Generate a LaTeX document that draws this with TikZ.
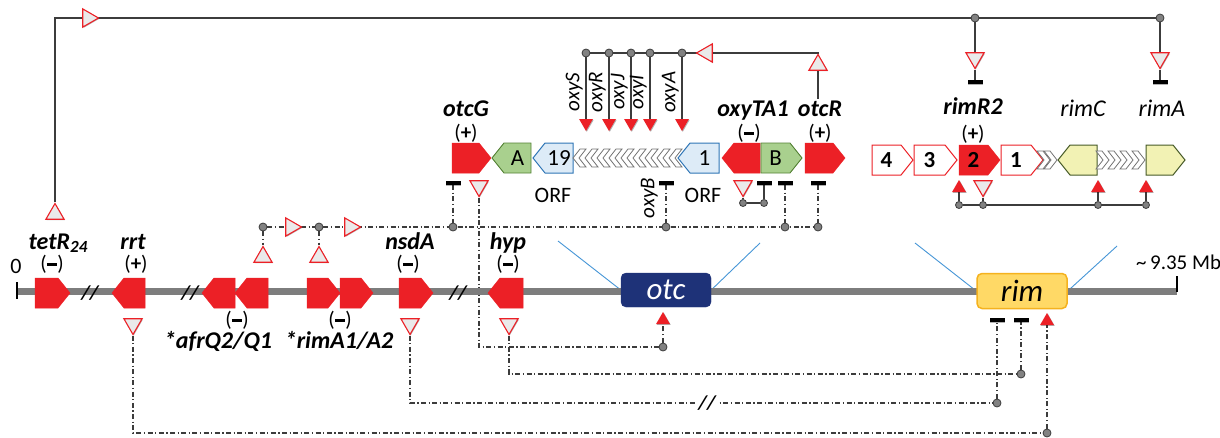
\documentclass[tikz,border=0pt]{standalone}
\usepackage{fontspec}
\setmainfont{Carlito}
\usetikzlibrary{shapes.geometric,shadows}
\pgfdeclarelayer{bg}
\pgfsetlayers{bg,main}
\definecolor{gred}{RGB}{236,32,38}
\definecolor{tfill}{RGB}{234,234,234}
\definecolor{dkline}{RGB}{60,60,60}
\definecolor{dotfill}{RGB}{130,130,130}
\definecolor{chromc}{RGB}{125,125,125}
\definecolor{navy}{RGB}{30,50,120}
\definecolor{rimfill}{RGB}{255,217,102}
\definecolor{rimdraw}{RGB}{245,178,30}
\definecolor{bluel}{RGB}{70,150,215}
\definecolor{orffill}{RGB}{221,235,247}
\definecolor{orfdraw}{RGB}{46,117,182}
\definecolor{grfill}{RGB}{169,208,142}
\definecolor{grdraw}{RGB}{84,130,53}
\definecolor{yefill}{RGB}{242,242,180}
\definecolor{yedraw}{RGB}{70,90,40}
\newcommand\genR[7]{%
  \draw[#5] (#2,#4-15) -- (#3-12,#4-15) -- (#3,#4) -- (#3-12,#4+15) -- (#2,#4+15) -- cycle;
  \node[#7] (#1) at ({(#2+#3-12)/2},#4) {#6};}
\newcommand\genL[7]{%
  \draw[#5] (#2,#4) -- (#2+12,#4-15) -- (#3,#4-15) -- (#3,#4+15) -- (#2+12,#4+15) -- cycle;
  \node[#7] (#1) at ({(#2+12+#3)/2},#4) {#6};}
\newcommand\chevL[2]{%
  \draw[chev] (#1,#2) -- (#1+7,#2-9) -- (#1+13,#2-9) -- (#1+6,#2) -- (#1+13,#2+9) -- (#1+7,#2+9) -- cycle;}
\newcommand\chevR[2]{%
  \draw[chev] (#1,#2) -- (#1-7,#2-9) -- (#1-13,#2-9) -- (#1-6,#2) -- (#1-13,#2+9) -- (#1-7,#2+9) -- cycle;}
\newcommand\msign{(\raisebox{0.2em}{\rule{0.5em}{0.16em}})}
\newcommand\psign{(\textbf{+})}
\begin{document}
\begin{tikzpicture}[x=1pt,y=-1pt,
  shad/.style={drop shadow={shadow xshift=0.8pt,shadow yshift=-0.8pt,opacity=0.3,fill=black}},
  otri/.style={regular polygon,regular polygon sides=3,draw=gred,fill=tfill,line width=1.1pt,minimum size=21pt,inner sep=0pt,shad},
  triup/.style={otri},
  tridown/.style={otri,regular polygon rotate=180},
  triright/.style={otri,regular polygon rotate=-90},
  trileft/.style={otri,regular polygon rotate=90},
  redtri/.style={regular polygon,regular polygon sides=3,fill=gred,draw=none,minimum size=16pt,inner sep=0pt,shad},
  redtridown/.style={redtri,regular polygon rotate=180},
  repbar/.style={rectangle,fill=black,minimum width=15pt,minimum height=4pt,inner sep=0pt,shad},
  gdot/.style={circle,fill=dotfill,draw=dkline,line width=0.8pt,minimum size=8pt,inner sep=0pt},
  sdot/.style={gdot,minimum size=7pt},
  dd/.style={dkline,line width=1.1pt,dash pattern=on 5pt off 2.5pt on 1.2pt off 2.5pt},
  sol/.style={dkline,line width=1.2pt},
  chromo/.style={chromc,line width=7pt},
  tickm/.style={black,line width=1.6pt},
  blueline/.style={bluel,line width=0.9pt},
  redg/.style={fill=gred,draw=gred,line width=0.5pt},
  grg/.style={fill=grfill,draw=grdraw,line width=0.9pt},
  orfg/.style={fill=orffill,draw=orfdraw,line width=1pt},
  wg/.style={fill=white,draw=gred,line width=1pt},
  yg/.style={fill=yefill,draw=yedraw,line width=1pt},
  chev/.style={draw=black!55,fill=white,line width=0.8pt},
  gtxt/.style={font=\fontsize{23}{24}\selectfont,inner sep=0pt},
  btxt/.style={font=\fontsize{23}{24}\selectfont\bfseries,inner sep=0pt},
  glabel/.style={font=\fontsize{24}{28}\selectfont\bfseries\itshape,anchor=base,inner sep=0pt},
  ilabel/.style={font=\fontsize{24}{28}\selectfont\itshape,anchor=base,inner sep=0pt},
  sgn/.style={font=\fontsize{21}{22}\selectfont,inner sep=0pt},
  rlabel/.style={font=\fontsize{21}{24}\selectfont\itshape,rotate=90,anchor=south,inner sep=1pt},
  plain/.style={font=\fontsize{22}{24}\selectfont,inner sep=0pt},
  brk/.style={font=\fontsize{20}{22}\selectfont\bfseries\itshape,inner sep=1pt},
  boxotc/.style={rectangle,rounded corners=5pt,fill=navy,draw=navy,minimum width=90pt,minimum height=34pt,text=white,font=\fontsize{31}{32}\selectfont\itshape},
  boxrim/.style={rectangle,rounded corners=5pt,fill=rimfill,draw=rimdraw,line width=1.5pt,minimum width=90pt,minimum height=35pt,font=\fontsize{31}{32}\selectfont\itshape}
]
\useasboundingbox (0,0) rectangle (1220,437);
\begin{pgfonlayer}{bg}
\fill[white] (0,0) rectangle (1220,437);
\end{pgfonlayer}

% ---------- chromosome ----------
\coordinate (chL) at (17,291);
\coordinate (chR) at (1177,291);
\draw[chromo] (chL) -- (chR);
\draw[tickm] (17,282) -- (17,299);
\draw[tickm] (1177,276) -- (1177,292);
\node[plain] (zero) at (16,266) {0};
\node[plain,anchor=west] (size) at (1136,262) {\fontsize{21}{22}\selectfont \char`\~\,9.35 Mb};

\genR{gTetR}{35}{70}{293}{redg}{}{gtxt}
\genL{gRrt}{112}{145}{293}{redg}{}{gtxt}
\genL{gAfrQtwo}{202}{235}{293}{redg}{}{gtxt}
\genL{gAfrQone}{235}{268}{293}{redg}{}{gtxt}
\genR{gRimAone}{307}{340}{293}{redg}{}{gtxt}
\genR{gRimAtwo}{340}{373}{293}{redg}{}{gtxt}
\genR{gNsdA}{399}{433}{293}{redg}{}{gtxt}
\genL{gHyp}{488}{523}{293}{redg}{}{gtxt}
\node[brk] (brA) at (90,293) {//};
\node[brk] (brB) at (190,293) {//};
\node[brk] (brC) at (458,293) {//};

\node[boxotc] (otcbox) at (666,290) {otc};
\node[boxrim] (rimbox) at (1022,291) {\textcolor{black}{rim}};

% labels on chromosome
\node[glabel] (lTetR) at (58,249) {tetR\raisebox{-0.3ex}{\fontsize{17}{18}\selectfont 24}};
\node[sgn] (sTetR) at (52,264) {\msign};
\node[glabel] (lRrt) at (133,249) {rrt};
\node[sgn] (sRrt) at (136,264) {\psign};
\node[sgn] (sAfr) at (237,320) {\msign};
\node[glabel] (lAfr) at (218,348) {*afrQ2/Q1};
\node[sgn] (sRimA) at (340,320) {\msign};
\node[glabel] (lRimAA) at (339,348) {*rimA1/A2};
\node[glabel] (lNsd) at (410,249) {nsdA};
\node[sgn] (sNsd) at (408,264) {\msign};
\node[glabel] (lHyp) at (508,249) {hyp};
\node[sgn] (sHyp) at (508,264) {\msign};

% ---------- otc cluster ----------
\genR{gOtcG}{452}{491}{158}{redg}{}{gtxt}
\genL{gA}{492}{531}{158}{grg}{A}{gtxt}
\genL{gNineteen}{533}{573}{158}{orfg}{19}{gtxt}
\foreach \i in {8,7,...,0} {\chevL{573+12*\i}{158}}
\genL{gOne}{678}{719}{158}{orfg}{1}{gtxt}
\genL{gTA}{722}{760}{158}{redg}{}{gtxt}
\genR{gB}{761}{802}{158}{grg}{B}{gtxt}
\genR{gOtcR}{805}{845}{158}{redg}{}{gtxt}

\node[glabel] (lOtcG) at (466,116) {otcG};
\node[sgn] (sOtcG) at (466,133) {\psign};
\node[glabel] (lTA) at (753,116) {oxyTA1};
\node[sgn] (sTA) at (749,133) {\msign};
\node[glabel] (lOtcR) at (820,116) {otcR};
\node[sgn] (sOtcR) at (820,133) {\psign};
\node[plain,anchor=base] (orfA) at (553,202) {ORF};
\node[plain,anchor=base] (orfB) at (703,202) {ORF};

% oxy regulation
\node[gdot] (dS) at (586,53) {};
\node[gdot] (dR) at (609,53) {};
\node[gdot] (dJ) at (631,53) {};
\node[gdot] (dI) at (650,53) {};
\node[gdot] (dA) at (682,53) {};
\node[trileft] (tOxy) at (707,53) {};
\coordinate (cOtcR) at (818,53);
\coordinate (cOtcRb) at (818,99);
\node[triup] (tOtcR) at (818,65) {};
\node[redtridown] (aS) at (586,123) {};
\node[redtridown] (aR) at (609,123) {};
\node[redtridown] (aJ) at (631,123) {};
\node[redtridown] (aI) at (650,123) {};
\node[redtridown] (aA) at (682,123) {};
\node[rlabel] (lS) at (584,92) {oxyS};
\node[rlabel] (lR) at (607,92) {oxyR};
\node[rlabel] (lJ) at (629,92) {oxyJ};
\node[rlabel] (lI) at (648,92) {oxyI};
\node[rlabel] (lA) at (680,92) {oxyA};

% below otc cluster
\node[repbar] (bOtcG) at (453,183) {};
\node[tridown] (tOtcG) at (479,186) {};
\node[rlabel] (lB) at (659,198) {oxyB};
\node[repbar] (bOxyB) at (666,183) {};
\node[tridown] (tTA) at (743,186) {};
\node[sdot] (dTAa) at (743,203) {};
\node[sdot] (dTAb) at (764,203) {};
\node[repbar] (bTA) at (764,183) {};
\node[repbar] (bB) at (785,183) {};
\node[repbar] (bOtcR) at (818,183) {};

\node[gdot] (dAfr) at (263,227) {};
\node[gdot] (dRimAone) at (319,227) {};
\node[triright] (tMa) at (291,227) {};
\node[triright] (tMb) at (350,227) {};
\node[gdot] (dOtcG) at (453,227) {};
\node[gdot] (dOxyB) at (666,227) {};
\node[gdot] (dB) at (785,227) {};
\node[gdot] (dOtcR) at (818,227) {};
\node[triup] (tAfr) at (263,257) {};
\node[triup] (tRimAone) at (319,257) {};

% below chromosome
\node[triup] (tTetR) at (55,214) {};
\node[tridown] (tRrt) at (133,324) {};
\node[tridown] (tNsd) at (410,324) {};
\node[tridown] (tHyp) at (509,324) {};
\node[redtri] (aOtc) at (663,320) {};
\node[gdot] (dOtc) at (663,347) {};
\node[repbar] (bRima) at (997,320) {};
\node[repbar] (bRimb) at (1021,320) {};
\node[redtri] (aRim) at (1047,321) {};
\node[gdot] (dRima) at (997,403) {};
\node[gdot] (dRimb) at (1021,374) {};
\node[gdot] (dRimc) at (1047,433) {};
\node[brk,fill=white] (brD) at (707,403) {//};

% ---------- rim cluster ----------
\genR{gRfour}{872}{913}{160}{wg}{4}{btxt}
\genR{gRthree}{914}{957}{160}{wg}{3}{btxt}
\genR{gRtwo}{959}{1000}{160}{redg}{2}{btxt}
\genR{gRone}{1001}{1043}{160}{wg}{1}{btxt}
\chevR{1050}{160}
\chevR{1057}{160}
\genL{gRimC}{1058}{1097}{160}{yg}{}{gtxt}
\foreach \i in {3,2,1,0} {\chevR{1109+12*\i}{160}}
\genR{gRimA}{1146}{1185}{160}{yg}{}{gtxt}

\node[glabel] (lRimR) at (973,114) {rimR2};
\node[sgn] (sRimR) at (973,134) {\psign};
\node[ilabel] (lRimC) at (1083,116) {rimC};
\node[ilabel] (lRimA) at (1162,116) {rimA};

\node[redtri] (aRtwo) at (959,188) {};
\node[tridown] (tRtwo) at (983,186) {};
\node[redtri] (aRimC) at (1098,188) {};
\node[redtri] (aRimA) at (1146,188) {};
\node[sdot] (dRa) at (959,205) {};
\node[sdot] (dRb) at (983,205) {};
\node[sdot] (dRc) at (1098,205) {};
\node[sdot] (dRd) at (1146,205) {};

% top feedback
\coordinate (topL) at (55,18);
\node[triright] (tTop) at (88,18) {};
\node[gdot] (dTopA) at (975,18) {};
\node[gdot] (dTopB) at (1160,18) {};
\node[tridown] (tTopA) at (975,58) {};
\node[repbar] (bTopA) at (975,82) {};
\node[tridown] (tTopB) at (1160,58) {};
\node[repbar] (bTopB) at (1160,82) {};

% ---------- connectors ----------
\begin{pgfonlayer}{bg}
\draw[sol] (tTetR) -- (topL) -- (dTopB);
\draw[sol] (dTopA) -- (tTopA) -- (bTopA);
\draw[sol] (dTopB) -- (tTopB) -- (bTopB);

\draw[sol] (dS) -- (cOtcR) -- (tOtcR) -- (cOtcRb);
\foreach \n in {S,R,J,I,A} {\draw[sol] (d\n) -- (a\n);}

\draw[dd] (bOtcG) -- (dOtcG);
\draw[dd] (bOxyB) -- (dOxyB);
\draw[dd] (bB) -- (dB);
\draw[dd] (bOtcR) -- (dOtcR);
\draw[sol] (tTA) -- (dTAa) -- (dTAb) -- (bTA);
\draw[dd] (dAfr) -- (dOtcR);
\draw[dd] (dAfr) -- (tAfr);
\draw[dd] (dRimAone) -- (tRimAone);

\draw[dd] (tOtcG) |- (dOtc);
\draw[dd] (dOtc) -- (aOtc);
\draw[dd] (tHyp) |- (dRimb);
\draw[dd] (dRimb) -- (bRimb);
\draw[dd] (tNsd) |- (dRima);
\draw[dd] (dRima) -- (bRima);
\draw[dd] (tRrt) |- (dRimc);
\draw[dd] (dRimc) -- (aRim);

\draw[sol] (dRa) -- (dRd);
\draw[sol] (aRtwo) -- (dRa);
\draw[sol] (tRtwo) -- (dRb);
\draw[sol] (aRimC) -- (dRc);
\draw[sol] (aRimA) -- (dRd);

\coordinate (bla) at (558,241);
\coordinate (blb) at (760,243);
\coordinate (blc) at (915,243);
\coordinate (bld) at (1117,246);
\draw[blueline] (bla) -- (otcbox.west);
\draw[blueline] (otcbox.east) -- (blb);
\draw[blueline] (blc) -- (rimbox.west);
\draw[blueline] (rimbox.east) -- (bld);
\end{pgfonlayer}
\end{tikzpicture}
\end{document}
